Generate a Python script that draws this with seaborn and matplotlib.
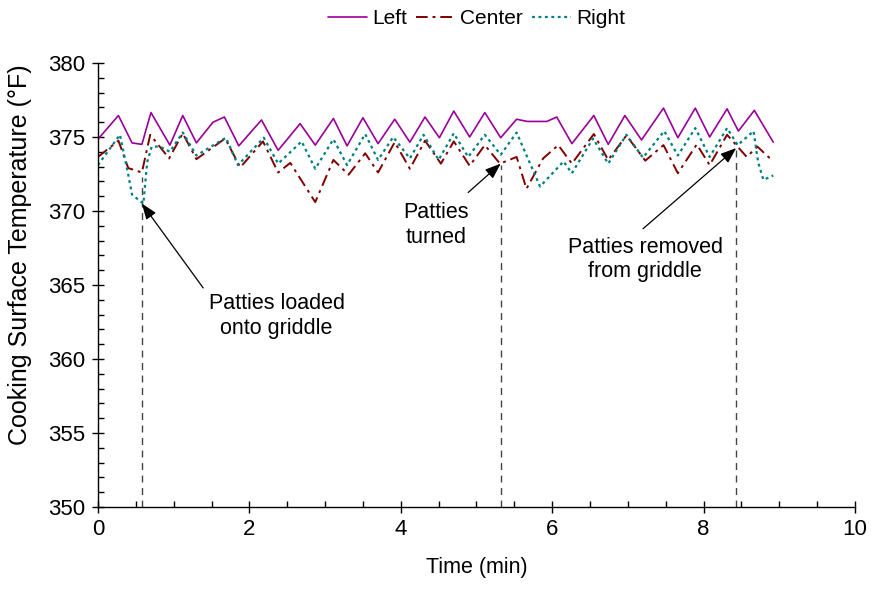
import matplotlib
matplotlib.use("Agg")
import matplotlib.pyplot as plt
import seaborn as sns
import pandas as pd
from matplotlib.ticker import MultipleLocator

# ---- data ----
left_t = [0.0, 0.27, 0.45, 0.58, 0.70, 0.95, 1.12, 1.30, 1.52, 1.67, 1.86, 2.16, 2.38,
          2.67, 2.87, 3.11, 3.29, 3.50, 3.70, 3.92, 4.12, 4.32, 4.51, 4.70, 4.91, 5.11,
          5.32, 5.53, 5.67, 5.93, 6.06, 6.26, 6.55, 6.74, 6.96, 7.18, 7.47, 7.66, 7.89,
          8.08, 8.31, 8.46, 8.67, 8.92]
left_v = [374.85, 376.45, 374.6, 374.5, 376.65, 374.45, 376.45, 374.6, 376.0, 376.35,
          374.4, 376.15, 374.1, 375.9, 374.45, 376.25, 374.4, 376.3, 374.55, 376.2,
          374.65, 376.35, 374.95, 376.75, 375.0, 376.65, 374.95, 376.2, 376.05, 376.05,
          376.35, 374.55, 376.45, 374.5, 376.45, 374.8, 376.95, 374.95, 376.95, 375.0,
          376.9, 375.4, 376.8, 374.65]

center_t = [0.0, 0.27, 0.40, 0.58, 0.69, 0.94, 1.12, 1.30, 1.68, 1.88, 2.18, 2.38, 2.54,
            2.87, 3.11, 3.31, 3.53, 3.70, 3.92, 4.12, 4.32, 4.53, 4.70, 4.91, 5.11, 5.31,
            5.53, 5.66, 5.88, 6.08, 6.26, 6.55, 6.74, 6.98, 7.23, 7.47, 7.66, 7.91, 8.08,
            8.31, 8.57, 8.71, 8.92]
center_v = [373.65, 374.75, 372.9, 372.6, 375.15, 373.55, 375.25, 373.5, 374.9, 372.95,
            374.7, 372.6, 373.25, 370.6, 373.45, 372.45, 373.9, 372.6, 374.65, 372.85,
            374.75, 373.2, 374.7, 373.05, 374.45, 373.2, 373.65, 371.5, 373.55, 374.45,
            373.2, 375.2, 373.45, 375.1, 373.4, 374.45, 372.55, 374.5, 373.1, 375.15,
            373.65, 374.35, 373.35]

right_t = [0.0, 0.29, 0.40, 0.45, 0.60, 0.65, 0.71, 0.82, 0.95, 1.12, 1.30, 1.69, 1.85,
           2.19, 2.38, 2.69, 2.87, 3.11, 3.29, 3.53, 3.70, 3.90, 4.12, 4.30, 4.50, 4.70,
           4.89, 5.11, 5.32, 5.53, 5.84, 6.15, 6.26, 6.54, 6.74, 6.98, 7.20, 7.48, 7.66,
           7.89, 8.08, 8.31, 8.45, 8.66, 8.72, 8.79, 8.92]
right_v = [373.1, 375.15, 372.45, 371.1, 370.5, 373.3, 374.35, 374.35, 374.0, 375.3,
           373.75, 374.95, 373.1, 374.95, 373.2, 374.7, 372.85, 374.85, 373.1, 375.2,
           373.45, 375.0, 373.55, 375.15, 373.45, 375.25, 373.65, 375.15, 373.8, 375.3,
           371.65, 373.35, 372.55, 374.9, 373.2, 375.15, 373.6, 375.4, 373.75, 375.6,
           373.65, 375.6, 374.45, 375.4, 373.3, 372.1, 372.4]

series_names = ["Left", "Center", "Right"]

# annotations
event_t = [0.58, 5.32, 8.43]
event_top = [372.3, 373.1, 374.6]
arrow_tip_y = [370.5, 373.2, 374.25]
arrow_tail = [(1.39, 364.8), (4.89, 371.25), (7.20, 368.8)]
text_pos = [(2.36, 362.9), (4.47, 369.05), (7.23, 366.7)]
labels = ["Patties loaded\nonto griddle", "Patties\nturned", "Patties removed\nfrom griddle"]

# ---- plotting ----
sns.set_theme(style="white")
plt.rcParams["font.family"] = ["Liberation Sans", "DejaVu Sans"]

fig = plt.figure(figsize=(8.81, 5.97), dpi=100)
ax = fig.add_axes([0.1112, 0.1508, 0.8593, 0.7437])

styles = {
    "Left": dict(color="#990099", linestyle="-", linewidth=1.2),
    "Center": dict(color="#800000", linestyle=(0, (6, 2.5, 1.5, 2.5)), linewidth=1.4),
    "Right": dict(color="#008080", linestyle=(0, (1.3, 1.6)), linewidth=1.6),
}
data = {"Left": (left_t, left_v), "Center": (center_t, center_v), "Right": (right_t, right_v)}
for name in series_names:
    t, v = data[name]
    df = pd.DataFrame({"t": t, "v": v})
    sns.lineplot(data=df, x="t", y="v", ax=ax, label=name, estimator=None, sort=False,
                 **styles[name])

for et, top, tip, tail, tp, lab in zip(event_t, event_top, arrow_tip_y, arrow_tail, text_pos, labels):
    ax.plot([et, et], [350, top], color="#444444", linestyle=(0, (5, 4)), linewidth=1.0, zorder=1)
    ax.annotate("", xy=(et, tip), xytext=tail,
                arrowprops=dict(arrowstyle="-|>,head_length=0.8,head_width=0.3",
                                color="black", lw=0.9, shrinkA=0, shrinkB=0))
    ax.text(tp[0], tp[1], lab, ha="center", va="center", fontsize=15.5, linespacing=1.2,
            color="black")

ax.set_xlim(0, 10)
ax.set_ylim(350, 380)
ax.xaxis.set_major_locator(MultipleLocator(2))
ax.xaxis.set_minor_locator(MultipleLocator(0.5))
ax.yaxis.set_major_locator(MultipleLocator(5))
ax.yaxis.set_minor_locator(MultipleLocator(1))
ax.tick_params(which="major", direction="inout", length=8, width=1, color="black",
               labelsize=16, labelcolor="black", pad=5)
ax.tick_params(which="minor", direction="in", length=4, width=1, color="black")
ax.tick_params(axis="x", which="both", bottom=True, top=False)
ax.tick_params(axis="y", which="both", left=True, right=False)
for s in ["top", "right"]:
    ax.spines[s].set_visible(False)
for s in ["left", "bottom"]:
    ax.spines[s].set_color("black")
    ax.spines[s].set_linewidth(1.0)

ax.set_xlabel("Time (min)", fontsize=15.5, labelpad=12, color="black")
ax.set_ylabel("Cooking Surface Temperature (°F)", fontsize=18, color="black")
ax.yaxis.set_label_coords(-0.087, 0.568)

leg = ax.legend(loc="center", bbox_to_anchor=(0.5, 1.10), ncol=3, frameon=False,
                fontsize=15, handlelength=1.9, handletextpad=0.25, columnspacing=0.4)
for txt in leg.get_texts():
    txt.set_color("black")

fig.savefig("out.png", dpi=100)
